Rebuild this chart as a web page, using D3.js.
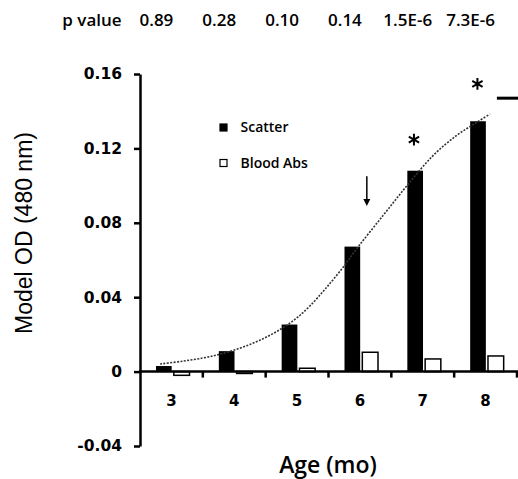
<!DOCTYPE html>
<html>
<head>
<meta charset="utf-8">
<script src="https://cdn.jsdelivr.net/npm/d3@7"></script>
<style>
  body { margin: 0; background: #fff; }
</style>
</head>
<body>
<div id="container"></div>
<script>
// chart data
var ages = ["3", "4", "5", "6", "7", "8"];
var seriesNames = ["Scatter", "Blood Abs"];
var scatterValues = [0.003, 0.011, 0.0253, 0.0672, 0.108, 0.1346];
var bloodValues = [-0.002, -0.001, 0.0018, 0.0104, 0.0068, 0.0084];
var pValueLabels = ["0.89", "0.28", "0.10", "0.14", "1.5E-6", "7.3E-6"];
var yTickValues = [-0.04, 0, 0.04, 0.08, 0.12, 0.16];
var yTickLabels = ["-0.04", "0", "0.04", "0.08", "0.12", "0.16"];
// dotted fit curve, [age, value]
var fitAges = [2.82, 3.18, 3.5, 3.73, 3.98, 4.25, 4.52, 4.78, 5.0, 5.21, 5.45, 5.73, 5.97, 6.37, 6.75, 7.16, 7.54, 7.86, 8.07];
var fitValues = [0.0041, 0.0056, 0.0073, 0.009, 0.0114, 0.0146, 0.0187, 0.0237, 0.029, 0.0355, 0.0445, 0.056, 0.067, 0.084, 0.1, 0.116, 0.127, 0.134, 0.1385];
// significance stars and arrow
var starAges = [6.86, 7.87];
var starValues = [0.1247, 0.1547];
var arrowAge = 6.11;
var arrowValues = [0.105, 0.089];

var W = 518, H = 479;

var svg = d3.select("#container")
  .append("svg")
    .attr("width", W)
    .attr("height", H)
    .style("font-family", "'Open Sans', sans-serif");

// scales
var x0 = d3.scaleBand()
  .domain(ages)
  .range([140, 517])
  .padding(0);

var x1 = d3.scaleBand()
  .domain(seriesNames)
  .range([16, 49.5])
  .paddingInner(0.12);

var y = d3.scaleLinear()
  .domain([-0.04, 0.16])
  .range([446, 74]);

// continuous age scale for curve / annotations
var xc = d3.scaleLinear()
  .domain([3, 8])
  .range([x0("3") + x0.bandwidth() / 2, x0("8") + x0.bandwidth() / 2]);

var rows = ages.map(function (a, i) {
  return { age: a, values: [
    { key: "Scatter", value: scatterValues[i] },
    { key: "Blood Abs", value: bloodValues[i] }
  ]};
});

// bars
var groups = svg.selectAll("g.age")
  .data(rows)
  .enter()
  .append("g")
    .attr("class", "age")
    .attr("transform", function (d) { return "translate(" + x0(d.age) + ",0)"; });

groups.selectAll("rect")
  .data(function (d) { return d.values; })
  .enter()
  .append("rect")
    .attr("x", function (d) { return x1(d.key); })
    .attr("y", function (d) { return y(Math.max(0, d.value)); })
    .attr("width", x1.bandwidth())
    .attr("height", function (d) { return Math.abs(y(d.value) - y(0)); })
    .attr("fill", function (d) { return d.key === "Scatter" ? "#000" : "#fff"; })
    .attr("stroke", "#000")
    .attr("stroke-width", function (d) { return d.key === "Scatter" ? 0 : 1.5; });

// fit curve
var line = d3.line()
  .x(function (d) { return xc(d[0]); })
  .y(function (d) { return y(d[1]); })
  .curve(d3.curveCatmullRom);

svg.append("path")
  .datum(d3.zip(fitAges, fitValues))
  .attr("d", line)
  .attr("fill", "none")
  .attr("stroke", "#333")
  .attr("stroke-width", 1.6)
  .attr("stroke-dasharray", "2,1.4");

// Y axis
var yAxis = svg.append("g")
  .attr("transform", "translate(140,0)")
  .call(d3.axisLeft(y)
    .tickValues(yTickValues)
    .tickFormat(function (d, i) { return yTickLabels[i]; })
    .tickSize(6)
    .tickSizeOuter(0)
    .tickPadding(12));
yAxis.selectAll("path, line").attr("stroke", "#000").attr("stroke-width", 2.5);
yAxis.selectAll("text")
  .style("font-family", "'DejaVu Sans', sans-serif")
  .style("font-weight", "bold")
  .style("font-size", "15.5px")
  .attr("fill", "#000");

// X axis at zero: labels from axis, line and boundary ticks drawn separately
var xAxis = svg.append("g")
  .attr("transform", "translate(0," + y(0) + ")")
  .call(d3.axisBottom(x0).tickSize(0).tickPadding(24));
xAxis.select(".domain").remove();
xAxis.selectAll("text")
  .style("font-family", "'DejaVu Sans', sans-serif")
  .style("font-weight", "bold")
  .style("font-size", "15px")
  .attr("fill", "#000");

xAxis.append("line")
  .attr("x1", 139).attr("x2", W)
  .attr("stroke", "#000").attr("stroke-width", 2.5);

xAxis.selectAll("line.bound")
  .data(ages.slice(1).map(function (a) { return x0(a); }).concat([x0.range()[1]]))
  .enter()
  .append("line")
    .attr("class", "bound")
    .attr("x1", function (d) { return d; })
    .attr("x2", function (d) { return d; })
    .attr("y1", 0).attr("y2", 6)
    .attr("stroke", "#000").attr("stroke-width", 2.5);

// p values row
svg.append("text")
  .attr("x", 92).attr("y", 25.5)
  .attr("text-anchor", "middle")
  .style("font-size", "17px").style("font-weight", 600)
  .text("p value");

svg.selectAll("text.pval")
  .data(pValueLabels)
  .enter()
  .append("text")
    .attr("class", "pval")
    .attr("x", function (d, i) { return x0(ages[i]) + x0.bandwidth() / 2 - 15; })
    .attr("y", 25.5)
    .attr("text-anchor", "middle")
    .style("font-size", "17px").style("font-weight", 600)
    .text(function (d) { return d; });

// legend
var legend = svg.selectAll("g.legend")
  .data(seriesNames)
  .enter()
  .append("g")
    .attr("class", "legend")
    .attr("transform", function (d, i) { return "translate(220," + (124 + i * 35.5) + ")"; });
legend.append("rect")
  .attr("width", 7).attr("height", 7)
  .attr("fill", function (d) { return d === "Scatter" ? "#000" : "#fff"; })
  .attr("stroke", "#000").attr("stroke-width", 1.2);
legend.append("text")
  .attr("x", 20.5).attr("y", 8)
  .style("font-size", "14px").style("font-weight", 600)
  .text(function (d) { return d; });

// stars
svg.selectAll("path.star")
  .data(d3.zip(starAges, starValues))
  .enter()
  .append("path")
    .attr("class", "star")
    .attr("transform", function (d) { return "translate(" + xc(d[0]) + "," + y(d[1]) + ")"; })
    .attr("d", d3.symbol(d3.symbolAsterisk, 100))
    .attr("fill", "none")
    .attr("stroke", "#000")
    .attr("stroke-width", 2);

// arrow
var ax = xc(arrowAge);
svg.append("line")
  .attr("x1", ax).attr("x2", ax)
  .attr("y1", y(arrowValues[0])).attr("y2", y(arrowValues[1]) - 6)
  .attr("stroke", "#000").attr("stroke-width", 1.5);
svg.append("path")
  .attr("d", "M" + (ax - 3.5) + "," + (y(arrowValues[1]) - 7) + "L" + (ax + 3.5) + "," + (y(arrowValues[1]) - 7) + "L" + ax + "," + y(arrowValues[1]) + "Z")
  .attr("fill", "#000");

// cut-off legend dash at the right edge
svg.append("line")
  .attr("x1", xc(8.18)).attr("x2", W)
  .attr("y1", y(0.147)).attr("y2", y(0.147))
  .attr("stroke", "#000").attr("stroke-width", 3);

// axis titles
svg.append("text")
  .attr("transform", "translate(31.5,233) rotate(-90)")
  .attr("text-anchor", "middle")
  .style("font-family", "'Liberation Sans', Arial, sans-serif")
  .style("font-size", "23px")
  .text("Model OD (480 nm)");

svg.append("text")
  .attr("x", 328).attr("y", 473)
  .attr("text-anchor", "middle")
  .style("font-size", "23px").style("font-weight", 600)
  .text("Age (mo)");
</script>
</body>
</html>
